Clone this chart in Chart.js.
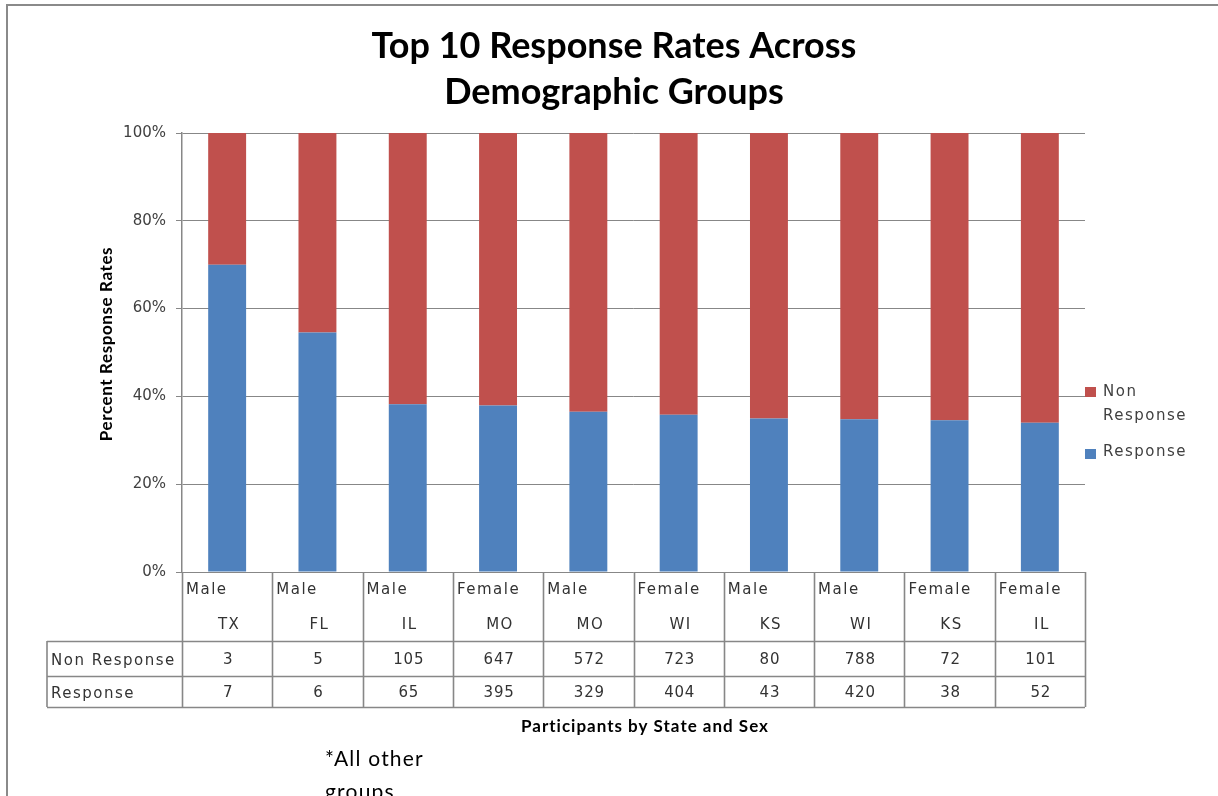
<!DOCTYPE html>
<html>
<head>
<meta charset="utf-8">
<script src="https://cdn.jsdelivr.net/npm/chart.js@4"></script>
<style>
  html, body { margin: 0; padding: 0; background: #fff; }
  #wrap { width: 1218px; height: 796px; position: relative; }
</style>
</head>
<body>
<div id="wrap"><canvas id="myChart" width="1218" height="796"></canvas></div>
<script>
// data
var sexes = ['Male', 'Male', 'Male', 'Female', 'Male', 'Female', 'Male', 'Male', 'Female', 'Female'];
var states = ['TX', 'FL', 'IL', 'MO', 'MO', 'WI', 'KS', 'WI', 'KS', 'IL'];
var nonResponse = [3, 5, 105, 647, 572, 723, 80, 788, 72, 101];
var response = [7, 6, 65, 395, 329, 404, 43, 420, 38, 52];
var yTicks = [0, 20, 40, 60, 80, 100];

var labels = states.map(function (s, i) { return sexes[i] + ' ' + s; });
var respPct = response.map(function (v, i) { return v / (v + nonResponse[i]) * 100; });
var nonPct = nonResponse.map(function (v, i) { return v / (v + response[i]) * 100; });

var blue = '#4F81BD';
var red = '#C0504D';
var lineGrey = '#878787';
var textGrey = '#404040';

var extras = {
  id: 'extras',
  afterDraw: function (chart) {
    var ctx = chart.ctx;
    var ca = chart.chartArea;
    var xs = chart.scales.x;
    var n = labels.length;
    var colW = (ca.right - ca.left) / n;
    var rowTop = ca.bottom, row1 = 641, row2 = 676, row3 = 707, labelLeft = 47;

    ctx.save();
    // outer frame (left and top only are visible)
    ctx.strokeStyle = '#8a8a8a';
    ctx.lineWidth = 2;
    ctx.beginPath();
    ctx.moveTo(7, 796); ctx.lineTo(7, 5); ctx.lineTo(1218, 5);
    ctx.stroke();

    // data table grid
    ctx.strokeStyle = lineGrey;
    ctx.lineWidth = 1.6;
    ctx.beginPath();
    for (var i = 0; i <= n; i++) {
      var bx = Math.round(ca.left + i * colW) + 0.5;
      ctx.moveTo(bx, rowTop); ctx.lineTo(bx, row3);
    }
    ctx.moveTo(labelLeft, row1); ctx.lineTo(labelLeft, row3);
    [row1, row2, row3].forEach(function (y) {
      ctx.moveTo(labelLeft, y + 0.5); ctx.lineTo(ca.right, y + 0.5);
    });
    ctx.stroke();

    // table text
    ctx.fillStyle = '#333';
    ctx.font = '15px "DejaVu Sans"';
    ctx.textBaseline = 'middle';
    for (var j = 0; j < n; j++) {
      var cx = xs.getPixelForValue(j);
      var left = ca.left + j * colW;
      ctx.letterSpacing = '1.5px';
      ctx.textAlign = 'left';
      ctx.fillText(sexes[j], left + 4, 590);
      ctx.textAlign = 'center';
      ctx.fillText(states[j], cx + 2, 625);
      ctx.letterSpacing = '0.8px';
      ctx.fillText(String(nonResponse[j]), cx + 1, 660);
      ctx.fillText(String(response[j]), cx + 1, 693);
    }
    ctx.letterSpacing = '1.5px';
    ctx.textAlign = 'left';
    ctx.fillText('Non Response', 51, 661);
    ctx.fillText('Response', 51, 694);

    // legend
    ctx.fillStyle = red;
    ctx.fillRect(1085, 387, 11, 10);
    ctx.fillStyle = blue;
    ctx.fillRect(1085, 449, 11, 10);
    ctx.fillStyle = textGrey;
    ctx.fillText('Non', 1103, 392);
    ctx.fillText('Response', 1103, 416);
    ctx.fillText('Response', 1103, 452);
    ctx.letterSpacing = '0px';

    // chart title
    ctx.fillStyle = '#000';
    ctx.textAlign = 'center';
    ctx.font = 'bold 36px Lato';
    ctx.fillText('Top 10 Response Rates Across', 614, 46);
    ctx.fillText('Demographic Groups', 614, 92);

    // x axis title
    ctx.font = 'bold 17px Lato';
    ctx.letterSpacing = '1px';
    ctx.fillText('Participants by State and Sex', 645, 727);

    // y axis title
    ctx.save();
    ctx.translate(107, 344);
    ctx.rotate(-Math.PI / 2);
    ctx.font = 'bold 17px Lato';
    ctx.letterSpacing = '0.6px';
    ctx.fillText('Percent Response Rates', 0, 0);
    ctx.restore();

    // footnote, cut by the bottom edge
    ctx.textAlign = 'left';
    ctx.font = '21px Lato';
    ctx.letterSpacing = '1.2px';
    ctx.fillText('*All other', 325, 759);
    ctx.fillText('groups', 325, 792);
    ctx.restore();
  }
};

var ctx = document.getElementById('myChart').getContext('2d');
var mixedChart = new Chart(ctx, {
  type: 'bar',
  data: {
    labels: labels,
    datasets: [{
      label: 'Response',
      backgroundColor: blue,
      data: respPct
    }, {
      label: 'Non Response',
      backgroundColor: red,
      data: nonPct
    }]
  },
  options: {
    responsive: false,
    animation: false,
    layout: { padding: { left: 0, top: 133, right: 133, bottom: 224 } },
    datasets: { bar: { categoryPercentage: 1, barPercentage: 0.42 } },
    plugins: {
      legend: { display: false },
      title: { display: false },
      tooltip: { enabled: false }
    },
    scales: {
      x: {
        stacked: true,
        grid: { display: false },
        border: { display: false },
        ticks: { display: false },
        afterFit: function (s) { s.height = 0; }
      },
      y: {
        stacked: true,
        min: 0,
        max: 100,
        afterFit: function (s) { s.width = 182; },
        afterBuildTicks: function (s) { s.ticks = yTicks.map(function (v) { return { value: v }; }); },
        grid: { color: lineGrey, tickLength: 6, lineWidth: 1 },
        border: { color: lineGrey, width: 1.5 },
        ticks: {
          padding: 10,
          color: textGrey,
          font: { family: 'DejaVu Sans', size: 15 },
          callback: function (v) { return v + '%'; }
        }
      }
    }
  },
  plugins: [extras]
});
</script>
</body>
</html>
